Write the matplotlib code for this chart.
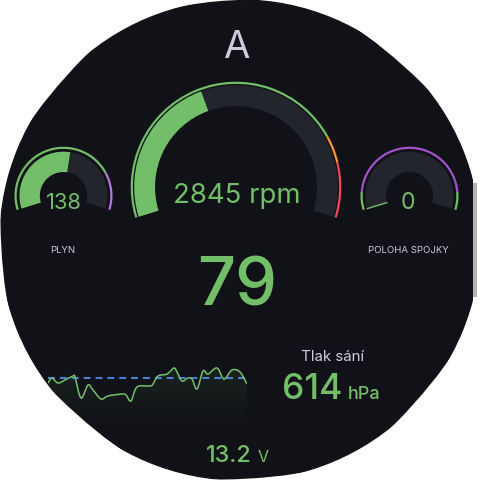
import matplotlib
matplotlib.use('Agg')
import matplotlib.pyplot as plt
import numpy as np
from matplotlib.patches import Circle, Rectangle, Wedge, PathPatch
from matplotlib.path import Path

plt.rcParams['font.family'] = ['Inter', 'DejaVu Sans']

# ---- data ----
title = 'A'

rpm_value = 2845
rpm_max = 7000
rpm_steps = [(0, '#73bf69'), (5500, '#ff9830'), (6000, '#f2495c')]

throttle_label = 'PLYN'
throttle_value = 138
throttle_max = 255
throttle_steps = [(0, '#73bf69'), (200, '#b877d9')]

clutch_label = 'POLOHA SPOJKY'
clutch_value = 0
clutch_max = 100
clutch_steps = [(0, '#73bf69'), (10, '#a352cc'), (90, '#73bf69')]

speed_value = 79

pressure_label = 'Tlak sání'
pressure_value = 614
pressure_unit = 'hPa'

voltage_value = 13.2
voltage_unit = 'V'

spark_t = [0, 4, 10, 17, 25, 27, 33, 40, 45, 53, 60, 74, 78, 83, 89, 102,
           105, 110, 119, 126, 129, 134, 140, 144, 149, 155, 160, 169, 176,
           184, 192, 199]
spark_v = [37, 42, 37, 40, 44, 43, 22, 35, 30, 21, 24, 26, 25, 19, 33, 34,
           36, 44, 46, 52, 48, 39, 42, 41, 31, 49, 46, 52, 41, 50, 48, 36]
spark_ref = 42

# ---- style ----
BG = '#111217'
EMPTY = '#22252b'
GREEN = '#73bf69'
TEXT = '#ccccdc'
A0, A1 = 197.0, -17.0

fig = plt.figure(figsize=(4.8, 4.8), dpi=100)
fig.patch.set_facecolor('white')

ax = fig.add_axes([0, 0, 1, 1])
ax.set_xlim(0, 480)
ax.set_ylim(480, 0)
ax.axis('off')

ax.add_patch(Circle((240, 240), 240, color=BG, zorder=0))


def val2ang(v, vmax):
    return A0 - (A0 - A1) * min(max(v / vmax, 0), 1)


def arc(cx, cy, r, w, a_from, a_to, color):
    # visual angles, a_from > a_to, y axis is inverted
    ax.add_patch(Wedge((cx, cy), r, -a_from, -a_to, width=w,
                       facecolor=color, edgecolor='none', zorder=2))


def gauge(cx, cy, ring_r, band_r, band_w, value, vmax, steps, ring_w=2.2):
    a_val = val2ang(value, vmax)
    arc(cx, cy, band_r, band_w, A0, A1, EMPTY)
    if value > 0:
        arc(cx, cy, band_r, band_w, A0, a_val, GREEN)
    else:
        t = np.radians(A0)
        ax.plot([cx + (band_r - band_w) * np.cos(t), cx + band_r * np.cos(t)],
                [cy - (band_r - band_w) * np.sin(t), cy - band_r * np.sin(t)],
                color=GREEN, lw=1, zorder=3)
    for i, (start, color) in enumerate(steps):
        end = steps[i + 1][0] if i + 1 < len(steps) else vmax
        arc(cx, cy, ring_r, ring_w, val2ang(start, vmax), val2ang(end, vmax), color)


gauge(236, 187, 105.3, 101.8, 20.8, rpm_value, rpm_max, rpm_steps)
gauge(63.5, 195.7, 49, 44, 20.3, throttle_value, throttle_max, throttle_steps)
gauge(409.5, 195.7, 49, 44, 20.3, clutch_value, clutch_max, clutch_steps)

ax.text(236, 58, title, color=TEXT, fontsize=27.5, ha='center', va='baseline')
ax.text(236.5, 203, f'{rpm_value} rpm', color=GREEN, fontsize=19.8,
        ha='center', va='baseline')
ax.text(64, 209, f'{throttle_value}', color=GREEN, fontsize=15.8,
        ha='center', va='baseline')
ax.text(408, 209, f'{clutch_value}', color=GREEN, fontsize=16.5,
        ha='center', va='baseline')
ax.text(63, 253, throttle_label, color=TEXT, fontsize=6.9,
        ha='center', va='baseline')
ax.text(408, 253, clutch_label, color=TEXT, fontsize=6.9,
        ha='center', va='baseline')
ax.text(237, 306, f'{speed_value}', color=GREEN, fontsize=48,
        fontweight='medium', ha='center', va='baseline')
ax.text(332.5, 361, pressure_label, color=TEXT, fontsize=10.9,
        ha='center', va='baseline')
ax.text(281.5, 399, f'{pressure_value}', color=GREEN, fontsize=25.5,
        fontweight='medium', ha='left', va='baseline')
ax.text(348, 399, pressure_unit, color=GREEN, fontsize=13,
        fontweight='medium', ha='left', va='baseline')
ax.text(206, 462, f'{voltage_value}', color=GREEN, fontsize=16.8,
        fontweight='medium', ha='left', va='baseline')
ax.text(258, 462, voltage_unit, color=GREEN, fontsize=11.5,
        ha='left', va='baseline')

# ---- sparkline ----
sax = fig.add_axes([48 / 480, (480 - 428) / 480, 199 / 480, 68 / 480])
sax.set_xlim(spark_t[0], spark_t[-1])
sax.set_ylim(-8, 60)
sax.axis('off')
sax.patch.set_alpha(0)


def smooth_path(xs, ys):
    # catmull-rom through the points, drawn as cubic bezier segments
    p = np.column_stack([xs, ys]).astype(float)
    p_ext = np.vstack([p[0], p, p[-1]])
    verts = [p[0]]
    codes = [Path.MOVETO]
    for i in range(len(p) - 1):
        p0, p1, p2, p3 = p_ext[i], p_ext[i + 1], p_ext[i + 2], p_ext[i + 3]
        verts += [p1 + (p2 - p0) / 6, p2 - (p3 - p1) / 6, p2]
        codes += [Path.CURVE4] * 3
    return verts, codes


line_verts, line_codes = smooth_path(spark_t, spark_v)

grad = np.linspace(0, 1, 100).reshape(-1, 1)
rgba = np.zeros((100, 1, 4))
rgba[..., :3] = matplotlib.colors.to_rgb(GREEN)
rgba[..., 3] = 0.10 * grad ** 1.2
img = sax.imshow(rgba, extent=[spark_t[0], spark_t[-1], -8, max(spark_v)],
                 origin='lower', aspect='auto', zorder=1)
fill_verts = line_verts + [(spark_t[-1], -8), (spark_t[0], -8), line_verts[0]]
fill_codes = line_codes + [Path.LINETO, Path.LINETO, Path.CLOSEPOLY]
poly = PathPatch(Path(fill_verts, fill_codes), facecolor='none', edgecolor='none')
sax.add_patch(poly)
img.set_clip_path(poly)

sax.axhline(spark_ref, color='#4a7fd0', lw=1.5, dashes=(3.3, 2.4), zorder=2)
sax.add_patch(PathPatch(Path(line_verts, line_codes), facecolor='none',
                        edgecolor=GREEN, lw=1.1, joinstyle='round', zorder=3))

# ---- outer mask ----
oax = fig.add_axes([0, 0, 1, 1])
oax.set_xlim(0, 480)
oax.set_ylim(480, 0)
oax.axis('off')
oax.patch.set_alpha(0)
circ = Path.circle((240, 240), 240)
square = Path([(-10, -10), (490, -10), (490, 490), (-10, 490), (-10, -10)],
              [Path.MOVETO, Path.LINETO, Path.LINETO, Path.LINETO, Path.CLOSEPOLY])
mask = Path.make_compound_path(square, Path(circ.vertices[::-1], circ.codes))
oax.add_patch(PathPatch(mask, facecolor='white', edgecolor='none'))
oax.add_patch(Rectangle((473, 0), 10, 480, facecolor='white', edgecolor='none'))
oax.add_patch(Rectangle((473, 183), 4, 114, facecolor='#b4b4b4', edgecolor='none'))

fig.savefig('out.png', dpi=100, facecolor='white')
